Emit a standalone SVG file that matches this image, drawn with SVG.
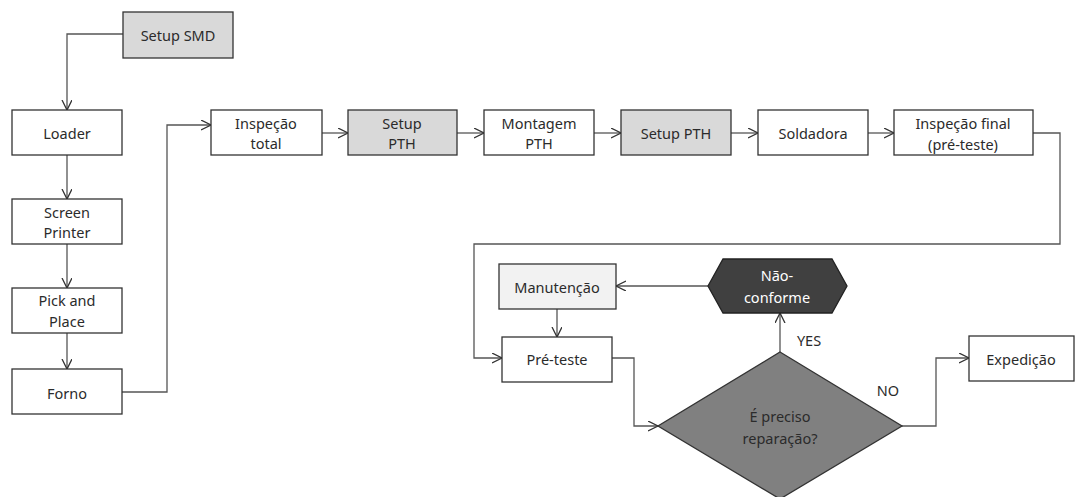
<svg xmlns="http://www.w3.org/2000/svg" width="1075" height="497" viewBox="0 0 1075 497">
<defs>
<marker id="arr" markerWidth="12" markerHeight="12" refX="10" refY="5" orient="auto" markerUnits="userSpaceOnUse">
<path d="M0,0 L10,5 L0,10" fill="none" stroke="#333" stroke-width="1.3"/>
</marker>
<style>
.box{stroke:#333;stroke-width:1.3;fill:#fff}
.gray{fill:#d9d9d9}
.light{fill:#f2f2f2}
.t{font-family:"Noto Sans","Open Sans",sans-serif;font-size:14.5px;fill:#2b2b2b;text-anchor:middle;dominant-baseline:central}
.w{fill:#fff}
.c{fill:none;stroke:#555;stroke-width:1.3;marker-end:url(#arr)}
</style>
</defs>
<g id="connectors">
<path class="c" d="M123,34 H67 V110"/>
<path class="c" d="M67,155 V199"/>
<path class="c" d="M67,244 V288"/>
<path class="c" d="M67,333 V369"/>
<path class="c" d="M122,392 H167 V125 H211"/>
<path class="c" d="M322,133 H348"/>
<path class="c" d="M457,133 H484"/>
<path class="c" d="M594,133 H621"/>
<path class="c" d="M731,133 H758"/>
<path class="c" d="M868,133 H894"/>
<path class="c" d="M1033,133 H1060 V244 H474 V358 H502"/>
<path class="c" d="M557,309 V337"/>
<path class="c" d="M708,286 H616"/>
<path class="c" d="M780,352 V313"/>
<path class="c" d="M612,358 H634 V426 H658"/>
<path class="c" d="M902,426 H936 V358 H969"/>
<text class="t" x="809" y="340">YES</text>
<text class="t" x="888" y="390">NO</text>
</g>
<g id="setup-smd"><rect class="box gray" x="123" y="12" width="110" height="46"/><text class="t" x="178" y="35">Setup SMD</text></g>
<g id="loader"><rect class="box" x="12" y="110" width="110" height="45"/><text class="t" x="67" y="133">Loader</text></g>
<g id="screen-printer"><rect class="box" x="12" y="199" width="110" height="45"/><text class="t" x="67" y="212">Screen</text><text class="t" x="67" y="232">Printer</text></g>
<g id="pick-place"><rect class="box" x="12" y="288" width="110" height="45"/><text class="t" x="67" y="300">Pick and</text><text class="t" x="67" y="321">Place</text></g>
<g id="forno"><rect class="box" x="12" y="369" width="110" height="45"/><text class="t" x="67" y="393">Forno</text></g>
<g id="inspecao-total"><rect class="box" x="211" y="110" width="111" height="45"/><text class="t" x="266" y="123">Inspeção</text><text class="t" x="266" y="143">total</text></g>
<g id="setup-pth-1"><rect class="box gray" x="348" y="110" width="109" height="45"/><text class="t" x="402" y="123">Setup</text><text class="t" x="402" y="143">PTH</text></g>
<g id="montagem-pth"><rect class="box" x="484" y="110" width="110" height="45"/><text class="t" x="539" y="123">Montagem</text><text class="t" x="539" y="143">PTH</text></g>
<g id="setup-pth-2"><rect class="box gray" x="621" y="110" width="110" height="45"/><text class="t" x="676" y="133">Setup PTH</text></g>
<g id="soldadora"><rect class="box" x="758" y="110" width="110" height="45"/><text class="t" x="813" y="133">Soldadora</text></g>
<g id="inspecao-final"><rect class="box" x="894" y="110" width="139" height="45"/><text class="t" x="963" y="123">Inspeção final</text><text class="t" x="963" y="144">(pré-teste)</text></g>
<g id="manutencao"><rect class="box light" x="499" y="264" width="117" height="45"/><text class="t" x="557" y="287">Manutenção</text></g>
<g id="nao-conforme"><polygon points="708,286 723,259 832,259 847,286 832,313 723,313" fill="#404040" stroke="#222" stroke-width="1.3"/><text class="t w" x="777" y="275">Não-</text><text class="t w" x="777" y="297">conforme</text></g>
<g id="pre-teste"><rect class="box" x="502" y="337" width="110" height="45"/><text class="t" x="557" y="359">Pré-teste</text></g>
<g id="decisao"><polygon points="780,352 902,426 780,499 658,426" fill="#808080" stroke="#333" stroke-width="1.3"/><text class="t" x="780" y="416">É preciso</text><text class="t" x="780" y="438">reparação?</text></g>
<g id="expedicao"><rect class="box" x="969" y="336" width="105" height="45"/><text class="t" x="1021" y="359">Expedição</text></g>
</svg>
